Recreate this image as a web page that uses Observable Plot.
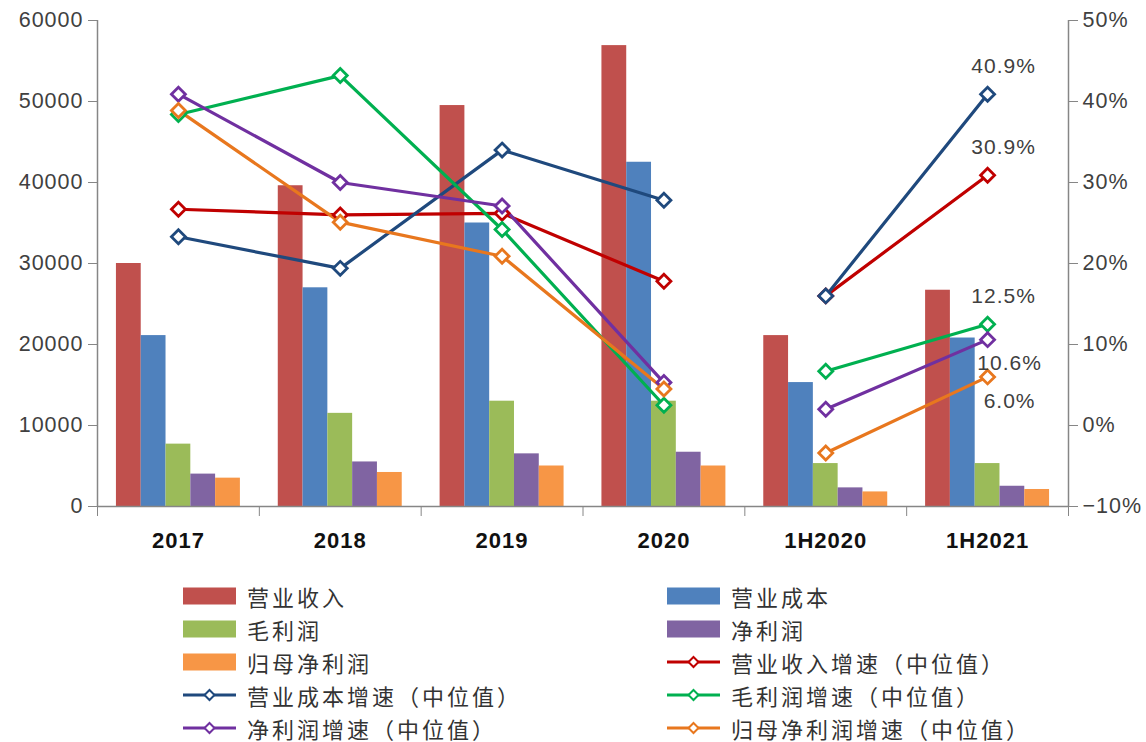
<!DOCTYPE html>
<html><head><meta charset="utf-8">
<script src="https://cdn.jsdelivr.net/npm/d3@7"></script>
<script src="https://cdn.jsdelivr.net/npm/@observablehq/plot@0.6"></script>
<style>
html,body{margin:0;padding:0;background:#fff;}
#chart svg{display:block;}
#legend{position:relative;width:1146px;height:177px;font-family:"Noto Sans CJK SC","Noto Sans",sans-serif;}
.item{position:absolute;display:flex;align-items:center;height:33px;font-size:22px;letter-spacing:3px;color:#333;}
.item svg{margin-right:11px;flex:none;}
</style></head>
<body>
<div id="chart"></div>
<div id="legend"></div>
<script>
// ---- data ----
const categories = ["2017", "2018", "2019", "2020", "1H2020", "1H2021"];
const barSeries = ["营业收入", "营业成本", "毛利润", "净利润", "归母净利润"];
const revenue         = [30000, 39600, 49500, 56900, 21100, 26700];
const cost            = [21100, 27000, 35000, 42500, 15300, 20800];
const grossProfit     = [7700, 11500, 13000, 13000, 5300, 5300];
const netProfit       = [4000, 5500, 6500, 6700, 2300, 2500];
const parentNetProfit = [3500, 4200, 5000, 5000, 1800, 2100];

const lineSeries = ["营业收入增速（中位值）", "营业成本增速（中位值）", "毛利润增速（中位值）", "净利润增速（中位值）", "归母净利润增速（中位值）"];
const revenueGrowth = [26.7, 26.0, 26.2, 17.8, 16.0, 30.9];
const costGrowth    = [23.3, 19.4, 34.0, 27.8, 16.0, 40.9];
const grossGrowth   = [38.4, 43.2, 24.2, 2.5, 6.7, 12.5];
const netGrowth     = [40.9, 30.0, 27.1, 5.3, 2.0, 10.6];
const parentGrowth  = [38.9, 25.1, 20.9, 4.5, -3.4, 6.0];

const leftTicks = [0, 10000, 20000, 30000, 40000, 50000, 60000];
const rightTicks = [-10, 0, 10, 20, 30, 40, 50];

const barColors = ["#C0504D", "#4F81BD", "#9BBB59", "#8064A2", "#F79646"];
const lineColors = ["#C00000", "#1F497D", "#00B050", "#7030A0", "#E8771E"];

// ---- build tables ----
const barValues = [revenue, cost, grossProfit, netProfit, parentNetProfit];
const lineValues = [revenueGrowth, costGrowth, grossGrowth, netGrowth, parentGrowth];
const bars = [];
barSeries.forEach((s, j) => categories.forEach((c, i) => bars.push({cat: c, i, j, series: s, value: barValues[j][i]})));
const lines = [];
lineSeries.forEach((s, j) => categories.forEach((c, i) => lines.push({cat: c, i, j, series: s, value: lineValues[j][i], period: c.startsWith("1H") ? "H" : "Y"})));

// secondary axis mapping (right % axis onto left scale)
const leftMax = leftTicks[leftTicks.length - 1];
const rMin = rightTicks[0], rMax = rightTicks[rightTicks.length - 1];
const toLeft = p => (p - rMin) / (rMax - rMin) * leftMax;
const pctFmt = p => (p < 0 ? "−" : "") + Math.abs(p) + "%";

const n = categories.length;
const groupWidth = 0.766;
const bw = groupWidth / barSeries.length;
const boundaries = d3.range(n + 1).map(k => k - 0.5);

const lastIdx = n - 1;
const ann = lines.filter(d => d.i === lastIdx);
const above = ann.filter(d => d.j <= 2);
const below = ann.filter(d => d.j > 2);

const axisColor = "#868686";
const plot = Plot.plot({
  width: 1146, height: 565,
  marginLeft: 97, marginRight: 78, marginTop: 20, marginBottom: 59,
  x: {type: "linear", domain: [-0.5, n - 0.5], axis: null},
  y: {domain: [0, leftMax], axis: null},
  color: {domain: [...barSeries, ...lineSeries], range: [...barColors, ...lineColors]},
  style: {fontFamily: "'Liberation Sans', Arial, sans-serif", background: "#fff", color: "#404040"},
  marks: [
    Plot.rectY(bars, {x1: d => d.i + (d.j - barSeries.length / 2) * bw, x2: d => d.i + (d.j - barSeries.length / 2 + 1) * bw, y: "value", fill: "series"}),
    Plot.ruleY([0], {stroke: axisColor, strokeWidth: 1.5}),
    Plot.ruleX([boundaries[0], boundaries[n]], {y1: 0, y2: leftMax, stroke: axisColor, strokeWidth: 1.5}),
    Plot.axisY(leftTicks, {anchor: "left", tickSize: 9, tickPadding: 5, stroke: axisColor, fill: "#404040", fontSize: 21.5, tickFormat: d => String(d), label: null}),
    Plot.axisY(rightTicks.map(toLeft), {anchor: "right", tickSize: 9, tickPadding: 5, stroke: axisColor, fill: "#404040", fontSize: 21.5, tickFormat: v => pctFmt(Math.round(v / leftMax * (rMax - rMin) + rMin)), label: null}),
    Plot.axisX(boundaries, {tickSize: 10, stroke: axisColor, tickFormat: () => "", label: null}),
    Plot.axisX(d3.range(n), {tickSize: 0, tickPadding: 26, tickFormat: i => categories[i], fontSize: 22, fontWeight: "bold", fill: "#111", label: null}),
    Plot.line(lines, {x: "i", y: d => toLeft(d.value), z: d => d.series + d.period, stroke: "series", strokeWidth: 3.2}),
    Plot.dot(lines, {x: "i", y: d => toLeft(d.value), symbol: "diamond2", r: 6.3, fill: "white", stroke: "series", strokeWidth: 2.8}),
    Plot.text(above, {x: "i", y: d => toLeft(d.value), text: d => d.value.toFixed(1) + "%", dx: 16, dy: -28, fontSize: 21, fill: "#404040"}),
    Plot.text(below, {x: "i", y: d => toLeft(d.value), text: d => d.value.toFixed(1) + "%", dx: 22, dy: 24, fontSize: 21, fill: "#404040"})
  ]
});
d3.select(plot).selectAll("text").style("letter-spacing", "1px");
document.getElementById("chart").appendChild(plot);

// ---- legend ----
const legendItems = [];
barSeries.forEach((s, j) => legendItems.push({name: s, type: "bar", color: barColors[j]}));
lineSeries.forEach((s, j) => legendItems.push({name: s, type: "line", color: lineColors[j]}));
const legend = d3.select("#legend");
legendItems.forEach((it, k) => {
  const col = k % 2, row = Math.floor(k / 2);
  const div = legend.append("div").attr("class", "item")
    .style("left", (col ? 667 : 183) + "px").style("top", (14 + row * 33) + "px");
  const svg = div.append("svg").attr("width", 53).attr("height", 20);
  if (it.type === "bar") {
    svg.append("rect").attr("x", 0).attr("y", 1.5).attr("width", 53).attr("height", 17).attr("fill", it.color);
  } else {
    svg.append("line").attr("x1", 0).attr("x2", 53).attr("y1", 10).attr("y2", 10).attr("stroke", it.color).attr("stroke-width", 3);
    svg.append("path").attr("d", "M26.5,5 L31.5,10 L26.5,15 L21.5,10 Z").attr("fill", "white").attr("stroke", it.color).attr("stroke-width", 2);
  }
  div.append("span").text(it.name);
});
</script>
</body></html>
